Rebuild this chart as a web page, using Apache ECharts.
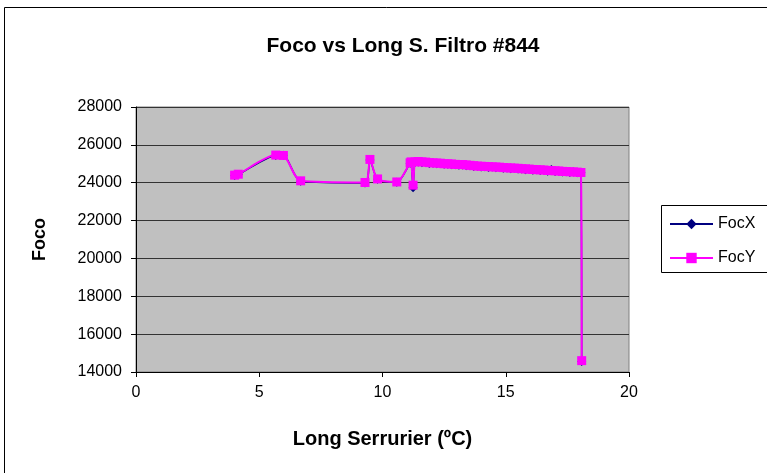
<!DOCTYPE html>
<html><head><meta charset="utf-8">
<script src="https://cdn.jsdelivr.net/npm/echarts@6/dist/echarts.min.js"></script>
<style>html,body{margin:0;padding:0;background:#fff}#c{width:767px;height:473px}</style>
</head><body><div id="c"></div>
<script>
const titleText = "Foco vs Long S. Filtro #844";
const xName = "Long Serrurier (ºC)";
const yName = "Foco";
const seriesNames = ["FocX", "FocY"];
const xTicks = [0, 5, 10, 15, 20];
const yTicks = [14000, 16000, 18000, 20000, 22000, 24000, 26000, 28000];

const xVals = [4.0, 4.15, 5.67, 5.98, 6.68, 9.29, 9.49, 9.80, 10.58, 11.12, 11.16, 11.24, 11.32,
  11.45, 11.6, 11.75, 11.9, 12.05, 12.2, 12.35, 12.5, 12.65, 12.8, 12.95, 13.1, 13.25, 13.4, 13.55,
  13.7, 13.85, 14.0, 14.15, 14.3, 14.45, 14.6, 14.75, 14.9, 15.05, 15.2, 15.35, 15.5, 15.65, 15.8,
  15.95, 16.1, 16.25, 16.4, 16.55, 16.7, 16.85, 17.0, 17.15, 17.3, 17.45, 17.6, 17.75, 17.9, 18.05, 18.08];

const focY = [24400, 24450, 25460, 25440, 24100, 24010, 25230, 24200, 24040, 25050, 25100, 23870, 25100,
  25120, 25100, 25090, 25060, 25050, 25040, 25030, 25000, 25000, 24990, 24970, 24960, 24960, 24940, 24920,
  24900, 24880, 24870, 24860, 24850, 24840, 24830, 24820, 24800, 24790, 24780, 24770, 24760, 24740, 24730,
  24720, 24700, 24690, 24680, 24670, 24650, 24640, 24630, 24620, 24600, 24590, 24580, 24570, 24560, 24540, 14600];

const focX = [24380, 24430, 25440, 25450, 24080, 23990, 25200, 24180, 24030, 25030, 25080, 23740, 25080,
  25090, 25060, 25070, 25020, 25030, 25000, 25010, 24970, 24980, 24950, 24950, 24920, 24940, 24900, 24900,
  24860, 24870, 24830, 24850, 24810, 24830, 24790, 24810, 24760, 24780, 24740, 24760, 24720, 24730, 24690,
  24710, 24660, 24690, 24640, 24660, 24610, 24700, 24590, 24610, 24560, 24580, 24540, 24560, 24520, 24530, 14560];

const font = "Liberation Sans, Arial, sans-serif";
const dataX = xVals.map((x, i) => [x, focX[i]]);
const dataY = xVals.map((x, i) => [x, focY[i]]);

const chart = echarts.init(document.getElementById('c'));
chart.setOption({
  animation: false,
  backgroundColor: '#fff',
  title: {
    text: titleText, left: 398, top: 31, textAlign: 'center',
    textStyle: { fontFamily: font, fontSize: 21, fontWeight: 'bold', color: '#000' }
  },
  graphic: [
    { type: 'rect', shape: { x: 4.5, y: 7.5, width: 900, height: 600 }, style: { fill: 'none', stroke: '#000', lineWidth: 1 }, z: -10 },
    { type: 'rect', shape: { x: 661.5, y: 205.5, width: 200, height: 67 }, style: { fill: '#fff', stroke: '#000', lineWidth: 1 }, z: 0 }
  ],
  legend: {
    orient: 'vertical', left: 669, top: 216, itemGap: 18, itemWidth: 43, itemHeight: 13,
    data: seriesNames, textStyle: { fontFamily: font, fontSize: 16, color: '#000', padding: [0, 0, 0, 0] },
    padding: 0, zlevel: 1
  },
  grid: {
    left: 136, top: 107, width: 493, height: 265, show: true,
    backgroundColor: '#C0C0C0', borderColor: '#808080', borderWidth: 1
  },
  xAxis: {
    type: 'value', min: xTicks[0], max: xTicks[xTicks.length - 1], interval: 5,
    name: xName, nameLocation: 'middle', nameGap: 57,
    nameTextStyle: { fontFamily: font, fontSize: 20, fontWeight: 'bold', color: '#000' },
    axisLine: { show: true, onZero: false, lineStyle: { color: '#000', width: 1 } },
    axisTick: { show: true, inside: false, length: 5, lineStyle: { color: '#000' } },
    axisLabel: { fontFamily: font, fontSize: 16, color: '#000', margin: 13 },
    splitLine: { show: false }
  },
  yAxis: {
    type: 'value', min: yTicks[0], max: yTicks[yTicks.length - 1], interval: 2000,
    name: yName, nameLocation: 'middle', nameGap: 87, nameRotate: 90,
    nameTextStyle: { fontFamily: font, fontSize: 18, fontWeight: 'bold', color: '#000' },
    axisLine: { show: true, onZero: false, lineStyle: { color: '#000', width: 1 } },
    axisTick: { show: true, inside: false, length: 5, lineStyle: { color: '#000' } },
    axisLabel: { fontFamily: font, fontSize: 16, color: '#000', margin: 14, formatter: v => String(v) },
    splitLine: { show: true, lineStyle: { color: '#333', width: 1 } }
  },
  series: [
    {
      name: seriesNames[0], type: 'line', data: dataX, smooth: 0.25,
      symbol: 'diamond', symbolSize: 9, showAllSymbol: true,
      lineStyle: { color: '#000080', width: 1.5 }, itemStyle: { color: '#000080' }, z: 2
    },
    {
      name: seriesNames[1], type: 'line', data: dataY, smooth: 0.25,
      symbol: 'rect', symbolSize: 9, showAllSymbol: true,
      lineStyle: { color: '#FF00FF', width: 2 }, itemStyle: { color: '#FF00FF' }, z: 3
    }
  ]
});
</script></body></html>
